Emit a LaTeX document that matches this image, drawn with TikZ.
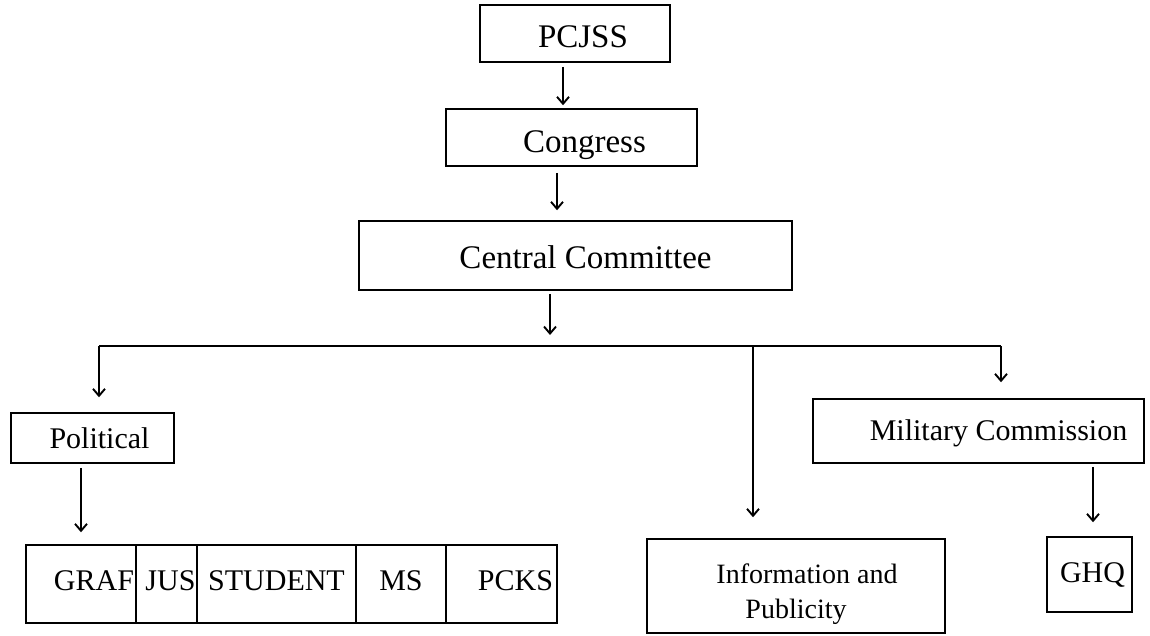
\documentclass[tikz,border=0pt]{standalone}
\usepackage{fontspec}
\setmainfont{Liberation Serif}
\usetikzlibrary{arrows.meta}
\newcommand{\lowr}[2]{\raisebox{-#1}[\height][\depth]{#2}}
\tikzset{
  box/.style={draw, line width=1.5pt, rectangle, inner sep=0pt, anchor=center},
  arr/.style={line width=1.5pt, -{Straight Barb[length=7pt,width=12pt,line width=1.9pt]}},
  conn/.style={line width=1.5pt},
  big/.style={font=\fontsize{33}{38}\selectfont},
  mid/.style={font=\fontsize{30}{35}\selectfont},
  small/.style={font=\fontsize{28}{35}\selectfont},
}
\begin{document}
\begin{tikzpicture}[x=1pt,y=-1pt]
\useasboundingbox[fill=white] (0,0) rectangle (1150,635);
% top chain
\node[box,big,minimum width=190pt,minimum height=57pt] (pc) at (575,33.5) {\lowr{3pt}{\hspace*{16pt}PCJSS}};
\node[box,big,minimum width=251pt,minimum height=57pt] (cg) at (571.5,137.5) {\lowr{8pt}{\hspace*{26pt}Congress}};
\node[box,big,minimum width=433pt,minimum height=69pt] (cc) at (575.5,255.5) {\lowr{2pt}{\hspace*{20pt}Central Committee}};
% second level
\node[box,mid,minimum width=163pt,minimum height=50pt] (pol) at (92.5,438) {\hspace*{14pt}Political};
\node[box,mid,minimum width=331pt,minimum height=64pt] (mc) at (978.5,431) {\lowr{2pt}{\hspace*{40pt}Military Commission}};
\node[box,small,minimum width=298pt,minimum height=94pt] (info) at (796,586) {\lowr{8pt}{\begin{tabular}{@{}c@{}}\hspace*{22pt}Information and\\Publicity\end{tabular}}};
\node[box,mid,minimum width=85pt,minimum height=75pt] (ghq) at (1089.5,574.5) {\hspace*{6pt}GHQ};
% bottom row
\node[box,mid,minimum width=110pt,minimum height=78pt] (graf) at (81,584) {\lowr{-3pt}{\hspace*{26pt}GRAF}};
\node[box,mid,minimum width=61pt,minimum height=78pt] (jus) at (166.5,584) {\lowr{-3pt}{\hspace*{8pt}JUS}};
\node[box,mid,minimum width=159pt,minimum height=78pt] (stu) at (276.5,584) {\lowr{-3pt}{STUDENT}};
\node[box,mid,minimum width=90pt,minimum height=78pt] (ms) at (401,584) {\lowr{-3pt}{MS}};
\node[box,mid,minimum width=111pt,minimum height=78pt] (pcks) at (501.5,584) {\lowr{-3pt}{\hspace*{28pt}PCKS}};
% connectors
\coordinate (bL) at (99,346);
\coordinate (bR) at (1001,346);
\coordinate (bC) at (550,346);
\coordinate (bI) at (753,346);
\draw[arr,shorten <=4pt,shorten >=3pt] ([xshift=-12pt]pc.south) -- ([xshift=-8.5pt]cg.north);
\draw[arr,shorten <=6pt,shorten >=10pt] ([xshift=-14.5pt]cg.south) -- ([xshift=-18.5pt]cc.north);
\draw[arr,shorten <=3pt,shorten >=11pt] (bC |- cc.south) -- (bC);
\draw[conn] (bL) -- (bR);
\draw[arr,shorten >=15pt] (bL) -- (bL |- pol.north);
\draw[arr,shorten >=21pt] (bI) -- (bI |- info.north);
\draw[arr,shorten >=16pt] (bR) -- (bR |- mc.north);
\draw[arr,shorten <=4pt,shorten >=12pt] (graf.north |- pol.south) -- (graf.north);
\draw[arr,shorten <=3pt,shorten >=14pt] ([xshift=3.5pt]ghq.north |- mc.south) -- ([xshift=3.5pt]ghq.north);
\end{tikzpicture}
\end{document}
